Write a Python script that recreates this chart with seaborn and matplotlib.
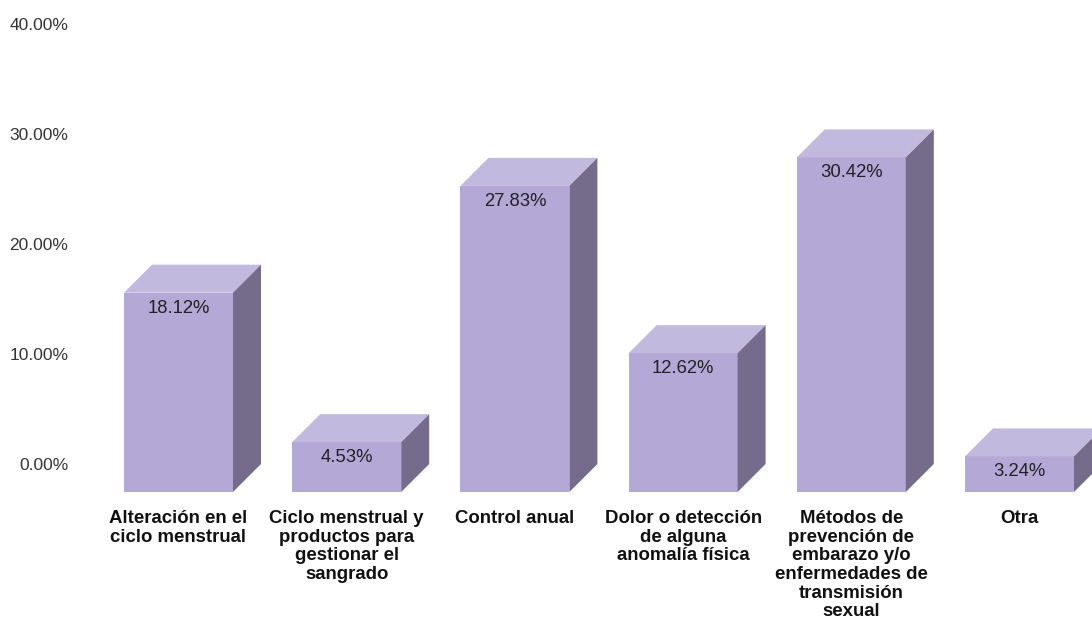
import matplotlib
matplotlib.use("Agg")
import matplotlib.pyplot as plt
import seaborn as sns
from matplotlib.patches import Polygon

# Data
categories = [
    "Alteración en el\nciclo menstrual",
    "Ciclo menstrual y\nproductos para\ngestionar el\nsangrado",
    "Control anual",
    "Dolor o detección\nde alguna\nanomalía física",
    "Métodos de\nprevención de\nembarazo y/o\nenfermedades de\ntransmisión\nsexual",
    "Otra",
]
values = [18.12, 4.53, 27.83, 12.62, 30.42, 3.24]
y_ticks = [0, 10, 20, 30, 40]

# Styles
FRONT = "#b3a8d6"
TOP = "#c2b9df"
SIDE = "#756b8b"
DEPTH_PX = 28
W, H = 1092, 619

sns.set_style("white")
plt.rcParams["font.family"] = ["Liberation Sans", "DejaVu Sans"]

fig = plt.figure(figsize=(W / 100, H / 100), dpi=100)
# axes = back plane of the 3d box
left_px, right_px = 122.4, 1131.6
top_px, bottom_px = 24, 464
ax = fig.add_axes([left_px / W, 1 - bottom_px / H,
                   (right_px - left_px) / W, (bottom_px - top_px) / H])

sns.barplot(x=list(range(len(values))), y=values, color=FRONT, width=0.648,
            saturation=1, ax=ax)
ax.set_xlim(-0.5, len(values) - 0.5)
ax.set_ylim(0, 40)

# depth in data units
p0 = ax.transData.transform((0, 0))
dx = DEPTH_PX / (ax.transData.transform((1, 0))[0] - p0[0])
dy = DEPTH_PX / (ax.transData.transform((0, 1))[1] - p0[1])
px_y = 1 / (ax.transData.transform((0, 1))[1] - p0[1])

for i, patch in enumerate(ax.patches):
    x0, w, h = patch.get_x(), patch.get_width(), patch.get_height()
    patch.set_x(x0 - dx)
    patch.set_y(-dy)
    patch.set_linewidth(0)
    patch.set_clip_on(False)
    top = Polygon([(x0 - dx, h - dy), (x0 + w - dx, h - dy), (x0 + w, h), (x0, h)],
                  closed=True, facecolor=TOP, edgecolor="none", clip_on=False)
    side = Polygon([(x0 + w - dx, -dy), (x0 + w, 0), (x0 + w, h), (x0 + w - dx, h - dy)],
                   closed=True, facecolor=SIDE, edgecolor="none", clip_on=False)
    ax.add_patch(top)
    ax.add_patch(side)
    cx = x0 + w / 2 - dx
    ax.text(cx, h - dy - 7 * px_y, f"{values[i]:.2f}%", ha="center", va="top",
            fontsize=13.3, color="#222222", clip_on=False)
    ax.text(cx, -dy - 18 * px_y, categories[i], ha="center", va="top",
            fontsize=13.4, fontweight="bold", color="#111111",
            linespacing=1.13, clip_on=False)

ax.set_xticks([])
ax.set_yticks(y_ticks)
ax.set_yticklabels([f"{t:.2f}%" for t in y_ticks])
ax.tick_params(axis="y", length=0, pad=39, labelsize=12.5, labelcolor="#333333")
ax.set_xlabel("")
ax.set_ylabel("")
sns.despine(ax=ax, left=True, bottom=True)

fig.savefig("out.png", dpi=100)
